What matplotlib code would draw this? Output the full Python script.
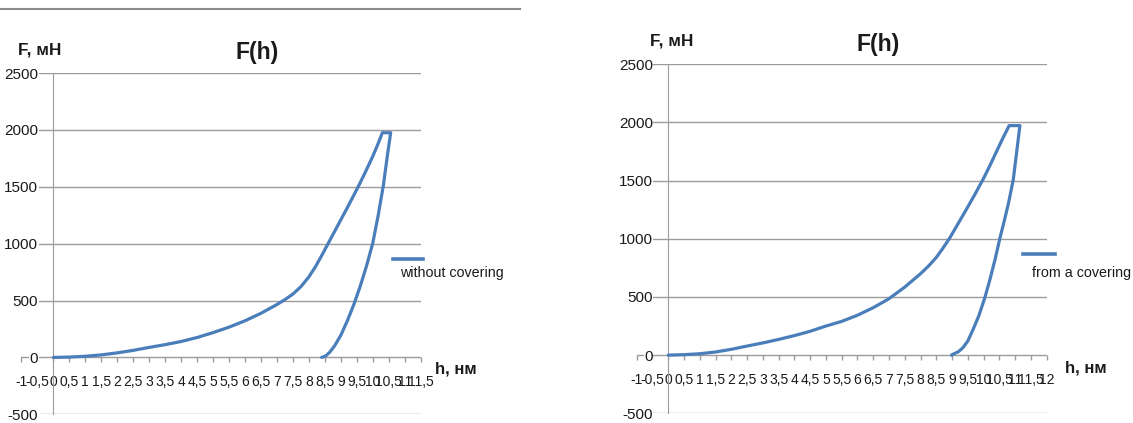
import matplotlib
matplotlib.use("Agg")
import matplotlib.pyplot as plt
from matplotlib.lines import Line2D

plt.rcParams['font.family'] = ['Liberation Sans Narrow', 'Liberation Sans', 'DejaVu Sans']

# ---------------- data ----------------
# left chart: without covering (loading, plateau, unloading)
h_left = [0, 0.5, 1, 1.5, 2, 2.5, 3, 3.5, 4, 4.5, 5, 5.5, 6, 6.5, 7, 7.25, 7.5, 7.75, 8.0, 8.2, 8.4, 8.6,
          8.8, 9.0, 9.2, 9.4, 9.6, 9.8, 10.0, 10.15, 10.3,
          10.56,
          10.45, 10.33, 10.17, 10.0, 9.8, 9.6, 9.4, 9.2, 9.0, 8.8, 8.65, 8.52, 8.40]
F_left = [0, 3, 10, 22, 40, 62, 88, 112, 140, 175, 218, 266, 322, 388, 465, 508, 557, 622, 708, 795, 895, 1000,
          1105, 1210, 1315, 1422, 1532, 1648, 1768, 1868, 1975,
          1975,
          1760, 1510, 1250, 1005, 800, 620, 460, 320, 195, 100, 45, 12, 0]

# right chart: from a covering
h_right = [0, 0.5, 1, 1.5, 2, 2.5, 3, 3.5, 4, 4.5, 5, 5.5, 6, 6.5, 7, 7.5, 8, 8.25, 8.5, 8.7, 8.93,
           9.2, 9.5, 9.75, 9.99, 10.2, 10.4, 10.6, 10.81,
           11.15,
           11.05, 10.94, 10.8, 10.66, 10.52, 10.36, 10.2, 10.04, 9.85, 9.67, 9.5, 9.35, 9.2, 9.04, 8.98]
F_right = [0, 4, 12, 27, 50, 78, 105, 135, 168, 205, 250, 290, 343, 408, 485, 585, 700, 765, 840, 915, 1009,
           1135, 1275, 1395, 1515, 1630, 1745, 1860, 1973,
           1973,
           1750, 1509, 1320, 1160, 1009, 820, 650, 495, 340, 223, 122, 66, 29, 9, 0]

label_left = "without covering"
label_right = "from a covering"
title = "F(h)"
ylabel = "F, мН"
xlabel = "h, нм"
y_ticks = [-500, 0, 500, 1000, 1500, 2000, 2500]
x_ticks_left = [i * 0.5 for i in range(-2, 24)]     # -1 .. 11.5
x_ticks_right = [i * 0.5 for i in range(-2, 25)]    # -1 .. 12

# ---------------- layout ----------------
W, H = 1133, 423
fig = plt.figure(figsize=(W / 100, H / 100), dpi=100)
fig.patch.set_facecolor('white')

BLUE = '#4a7ebb'
GRID = '#9c9c9c'
TXT = '#1a1a1a'


def rect(x0, x1, ytop, ybot):
    return [x0 / W, 1 - ybot / H, (x1 - x0) / W, (ybot - ytop) / H]


def fmt(v):
    if abs(v - round(v)) < 1e-9:
        return str(int(round(v)))
    return ("%g" % v).replace('.', ',')


def make_axes(r, xmax, xticks, h, F):
    ax = fig.add_axes(r)
    ax.set_xlim(-1, xmax)
    ax.set_ylim(-500, 2500)
    ax.plot(h, F, color=BLUE, lw=2.3, solid_joinstyle='round', solid_capstyle='round', zorder=5)
    for s in ['top', 'right']:
        ax.spines[s].set_visible(False)
    ax.spines['left'].set_position(('data', 0))
    ax.spines['left'].set_color(GRID)
    ax.spines['bottom'].set_position(('data', 0))
    ax.spines['bottom'].set_color('none')
    ax.set_yticks(y_ticks)
    ax.set_yticklabels([str(v) for v in y_ticks])
    ax.set_xticks(xticks)
    ax.set_xticklabels([fmt(v) for v in xticks])
    ax.yaxis.grid(True, color=GRID, lw=1.0)
    ax.set_axisbelow(True)
    ax.tick_params(axis='y', length=0, pad=11, labelsize=11, labelcolor=TXT)
    ax.tick_params(axis='x', direction='out', length=3.6, width=1, color=GRID,
                   pad=9, labelsize=10, labelcolor=TXT)
    for t in ax.get_yticklabels():
        t.set_bbox(dict(facecolor='white', edgecolor='none', pad=0.3))
    ax.patch.set_visible(False)
    return ax


axL = make_axes(rect(21.4, 420.7, 73.0, 414.3), 11.5, x_ticks_left, h_left, F_left)
axR = make_axes(rect(636.7, 1046.7, 64.3, 413.3), 12, x_ticks_right, h_right, F_right)


def ftext(x, y, s, **kw):
    fig.text(x / W, 1 - y / H, s, **kw)


# titles and axis labels
ftext(257, 53, title, ha='center', va='center', fontsize=16.5, fontweight='bold', color=TXT)
ftext(878, 45, title, ha='center', va='center', fontsize=16.5, fontweight='bold', color=TXT)
ftext(18, 50, ylabel, ha='left', va='center', fontsize=12.3, fontweight='bold', color=TXT)
ftext(650, 41, ylabel, ha='left', va='center', fontsize=12.3, fontweight='bold', color=TXT)
ftext(435, 369, xlabel, ha='left', va='center', fontsize=12, fontweight='bold', color=TXT)
ftext(1065, 368, xlabel, ha='left', va='center', fontsize=12, fontweight='bold', color=TXT)

# legends (Excel-style: line above text)
fig.add_artist(Line2D([393 / W, 423 / W], [1 - 259 / H] * 2, color=BLUE, lw=2.6))
ftext(400, 273, label_left, ha='left', va='center', fontsize=10.3, color=TXT)
fig.add_artist(Line2D([1023 / W, 1055 / W], [1 - 254 / H] * 2, color=BLUE, lw=2.6))
ftext(1032, 273, label_right, ha='left', va='center', fontsize=10.3, color=TXT)

# thin rule at top-left
fig.add_artist(Line2D([0, 520 / W], [1 - 9.5 / H] * 2, color='#8a8a8a', lw=1.5))

fig.savefig('out.png', dpi=100, facecolor='white')
